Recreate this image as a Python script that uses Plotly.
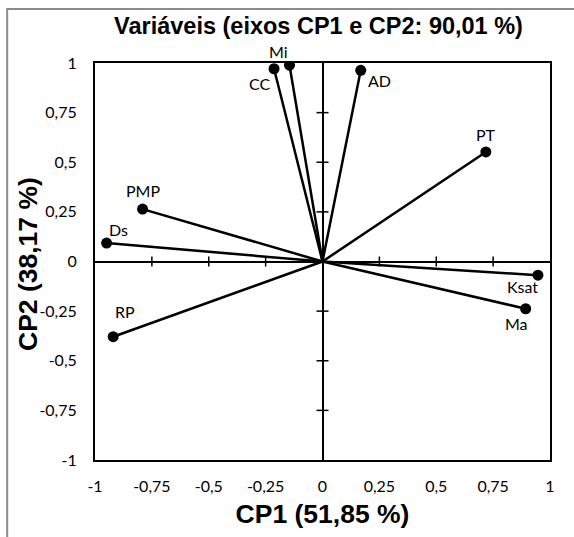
import plotly.graph_objects as go

# ---- data ----
variables = ["Mi", "CC", "AD", "PT", "PMP", "Ds", "RP", "Ksat", "Ma"]
cp1 = [-0.145, -0.213, 0.168, 0.718, -0.791, -0.949, -0.920, 0.947, 0.893]
cp2 = [0.989, 0.971, 0.963, 0.552, 0.264, 0.093, -0.379, -0.069, -0.238]
# label offsets (px) relative to each point
label_dx = [-11, -15, 19, 0, 0, 12, 12, -15, -9]
label_dy = [-14, 15, 10, -17, -19, -14, -25, 11, 15]

tick_vals = [-1, -0.75, -0.5, -0.25, 0, 0.25, 0.5, 0.75, 1]
tick_text = ["-1", "-0,75", "-0,5", "-0,25", "0", "0,25", "0,5", "0,75", "1"]

title_text = "Variáveis (eixos CP1 e CP2: 90,01 %)"
x_title = "CP1 (51,85 %)"
y_title = "CP2 (38,17 %)"

W, H = 574, 537
TICK_FONT = dict(family="Lato", size=16, color="#000000")
LABEL_FONT = dict(family="Lato", size=16, color="#000000")
BOLD = "Liberation Sans, Arial"

fig = go.Figure()

# vectors from origin
lx, ly = [], []
for x, y in zip(cp1, cp2):
    lx += [0, x, None]
    ly += [0, y, None]
fig.add_trace(go.Scatter(x=lx, y=ly, mode="lines",
                         line=dict(color="black", width=2.5),
                         hoverinfo="skip", showlegend=False))
fig.add_trace(go.Scatter(x=cp1, y=cp2, mode="markers",
                         marker=dict(color="black", size=11),
                         text=variables, hoverinfo="text", showlegend=False))

for name, x, y, dx, dy in zip(variables, cp1, cp2, label_dx, label_dy):
    fig.add_annotation(x=x, y=y, xref="x", yref="y", text=name, showarrow=False,
                       xshift=dx, yshift=-dy, font=LABEL_FONT,
                       xanchor="center", yanchor="middle")

# y axis title placed close to the tick labels
fig.add_annotation(text=y_title, xref="paper", yref="paper",
                   x=(28 - 95) / 455, y=(460 - 264) / 397,
                   xanchor="center", yanchor="middle", textangle=-90,
                   showarrow=False,
                   font=dict(family=BOLD, size=26.5, color="black",
                             weight="bold"))

# cross tick marks on the zero lines
shapes = []
for v in tick_vals:
    if v in (0, -1, 1):
        continue
    shapes.append(dict(type="line", xref="x", yref="y", ysizemode="pixel",
                       yanchor=0, x0=v, x1=v, y0=-5, y1=5,
                       line=dict(color="black", width=1.5)))
    shapes.append(dict(type="line", xref="x", yref="y", xsizemode="pixel",
                       xanchor=0, y0=v, y1=v, x0=-6, x1=6,
                       line=dict(color="black", width=1.5)))
# outer chart border (grey)
shapes.append(dict(type="rect", xref="paper", yref="paper",
                   x0=-0.193, x1=1.3, y0=-0.4, y1=1.136,
                   line=dict(color="#8c8c8c", width=2), layer="below"))

fig.update_layout(
    width=W, height=H,
    margin=dict(l=95, r=24, t=63, b=77),
    paper_bgcolor="white", plot_bgcolor="white",
    shapes=shapes,
    title=dict(text=title_text, x=318.5 / W, xanchor="center",
               y=1 - 26 / H, yanchor="middle",
               font=dict(family=BOLD, size=23.5, color="black", weight="bold")),
    xaxis=dict(range=[-1, 1], tickvals=tick_vals, ticktext=tick_text,
               showgrid=False, zeroline=True, zerolinecolor="black",
               zerolinewidth=2, showline=True, mirror=True, linecolor="black",
               linewidth=2, ticks="", tickfont=TICK_FONT,
               ticklabelstandoff=11,
               title=dict(text=x_title, standoff=10,
                          font=dict(family=BOLD, size=26.5, color="black",
                                    weight="bold"))),
    yaxis=dict(range=[-1, 1], tickvals=tick_vals, ticktext=tick_text,
               showgrid=False, zeroline=True, zerolinecolor="black",
               zerolinewidth=2, showline=True, mirror=True, linecolor="black",
               linewidth=2, ticks="", tickfont=TICK_FONT,
               ticklabelstandoff=13),
)

fig.write_html("out.html")
